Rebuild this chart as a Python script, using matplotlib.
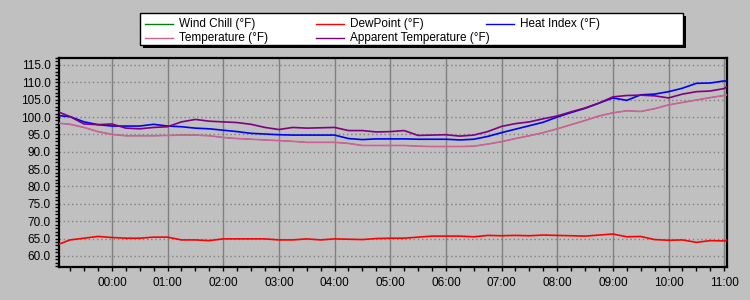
import numpy as np
import pandas as pd
import matplotlib
matplotlib.use("Agg")
import matplotlib.pyplot as plt
import matplotlib.dates as mdates
from matplotlib.ticker import MultipleLocator
from matplotlib.patches import Rectangle
from matplotlib.lines import Line2D

# sample times (15 min grid, plus first/last reading)
times = ([pd.Timestamp("2024-01-01 23:03")]
         + list(pd.date_range("2024-01-01 23:15", "2024-01-02 11:00", freq="15min"))
         + [pd.Timestamp("2024-01-02 11:03")])

heat_index = [100.4, 100.1, 98.6, 97.8, 97.4, 97.4, 97.4, 97.9, 97.4, 97.2,
              96.8, 96.6, 96.2, 95.8, 95.3, 95.1, 94.9, 94.8, 94.8, 94.8,
              94.8, 93.8, 93.5, 93.7, 93.7, 93.7, 93.6, 93.6, 93.6, 93.4,
              93.6, 94.4, 95.5, 96.5, 97.5, 98.5, 100.0, 101.3, 102.5, 104.0,
              105.5, 104.8, 106.4, 106.6, 107.3, 108.3, 109.7, 109.8, 110.4, 110.2]

apparent = [101.4, 100.1, 98.0, 97.8, 98.0, 96.8, 96.6, 97.0, 97.2, 98.6,
            99.3, 98.8, 98.6, 98.4, 97.9, 97.0, 96.4, 97.0, 96.8, 96.9,
            97.0, 96.1, 96.1, 95.7, 95.8, 96.1, 94.7, 94.8, 94.9, 94.5,
            94.8, 95.8, 97.3, 98.1, 98.6, 99.5, 100.3, 101.5, 102.6, 104.0,
            105.8, 106.2, 106.3, 106.1, 105.5, 106.6, 107.3, 107.5, 108.2, 108.8]

temperature = [98.2, 97.9, 97.0, 95.8, 95.0, 94.6, 94.6, 94.6, 94.7, 94.8,
               94.8, 94.6, 94.1, 93.8, 93.6, 93.4, 93.2, 93.0, 92.7, 92.7,
               92.7, 92.4, 91.8, 91.8, 91.8, 91.8, 91.6, 91.5, 91.5, 91.5,
               91.6, 92.2, 92.9, 93.8, 94.6, 95.5, 96.6, 97.8, 99.0, 100.3,
               101.2, 101.8, 101.6, 102.4, 103.5, 104.2, 104.9, 105.6, 106.2, 106.4]

# wind chill is identical to temperature here (hidden underneath)
wind_chill = list(temperature)

dew_point = [63.4, 64.6, 65.1, 65.6, 65.3, 65.1, 65.1, 65.4, 65.4, 64.6,
             64.6, 64.4, 64.9, 64.9, 64.9, 64.9, 64.6, 64.6, 64.9, 64.6,
             64.9, 64.8, 64.7, 65.0, 65.1, 65.1, 65.4, 65.7, 65.7, 65.7,
             65.5, 65.9, 65.8, 65.9, 65.8, 66.0, 65.9, 65.8, 65.7, 66.0,
             66.3, 65.5, 65.6, 64.7, 64.5, 64.6, 63.9, 64.4, 64.3, 64.6]

series_names = ["Wind Chill (°F)", "DewPoint (°F)", "Heat Index (°F)",
                "Temperature (°F)", "Apparent Temperature (°F)"]
series_colors = ["#008000", "#ff0000", "#0000ff", "#d0609a", "#800080"]

bg = "#c0c0c0"
plt.rcParams["font.family"] = ["Liberation Sans", "DejaVu Sans"]

W, H = 750, 300
fig = plt.figure(figsize=(7.5, 3), dpi=100, facecolor=bg)
ax = fig.add_axes([59 / W, 1 - 267 / H, 668 / W, 209 / H], facecolor=bg)

ax.plot(times, wind_chill, color=series_colors[0], lw=0.6, zorder=2)
ax.plot(times, temperature, color=series_colors[3], lw=1.2, zorder=3)
ax.plot(times, dew_point, color=series_colors[1], lw=1.2, zorder=3)
ax.plot(times, heat_index, color=series_colors[2], lw=1.2, zorder=4)
ax.plot(times, apparent, color=series_colors[4], lw=1.2, zorder=5)

ax.set_xlim(times[0], times[-1])
ax.set_ylim(56.8, 117)

ax.yaxis.set_major_locator(MultipleLocator(5))
ax.yaxis.set_minor_locator(MultipleLocator(1))
ax.yaxis.set_major_formatter(matplotlib.ticker.FormatStrFormatter("%.1f"))
ax.xaxis.set_major_locator(mdates.HourLocator())
ax.xaxis.set_minor_locator(mdates.MinuteLocator(byminute=[0, 15, 30, 45]))
ax.xaxis.set_major_formatter(mdates.DateFormatter("%H:%M"))

ax.tick_params(axis="both", which="both", direction="out", colors="black",
               labelsize=8.5, length=3, width=1)
ax.tick_params(axis="x", which="major", pad=4)
ax.tick_params(axis="y", which="major", pad=3)

ax.grid(True, axis="y", which="major", color="#808080", linestyle=(0, (1, 2)), lw=1)
ax.grid(True, axis="x", which="major", color="#808080", linestyle="-", lw=1)
ax.set_axisbelow(True)

for s in ax.spines.values():
    s.set_color("black")
    s.set_linewidth(1.6)

# legend box drawn by hand so columns sit where the original has them
fx = lambda px: px / W
fy = lambda py: 1 - py / H
fig.patches.append(Rectangle((fx(143), fy(48)), fx(543), 32 / H, transform=fig.transFigure,
                             facecolor="black", edgecolor="none", zorder=1))
fig.patches.append(Rectangle((fx(140), fy(45)), fx(543), 32 / H, transform=fig.transFigure,
                             facecolor="white", edgecolor="black", lw=1, zorder=2))
col_x = [145, 316, 486]
row_y = [23.5, 37.5]
for i, (name, color) in enumerate(zip(series_names, series_colors)):
    r, c = divmod(i, 3)
    x0 = col_x[c]
    y0 = row_y[r]
    fig.lines.append(Line2D([fx(x0), fx(x0 + 28)], [fy(y0), fy(y0)], transform=fig.transFigure,
                            color=color, lw=1, zorder=3))
    fig.text(fx(x0 + 34), fy(y0), name, fontsize=8.5, va="center", ha="left", zorder=3)

fig.savefig("out.png", dpi=100, facecolor=bg)
